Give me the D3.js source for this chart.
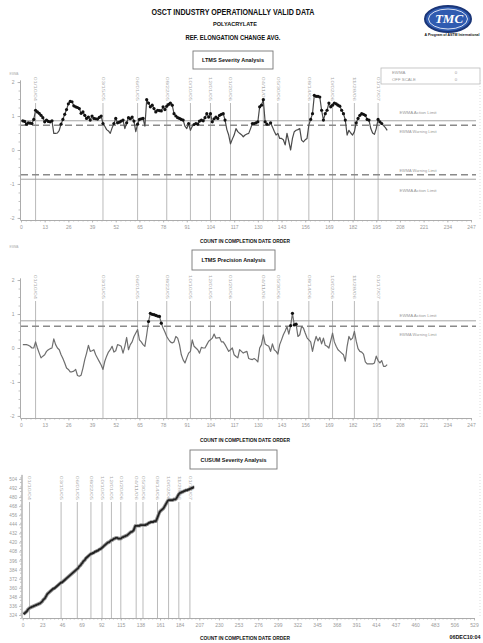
<!DOCTYPE html>
<html><head><meta charset="utf-8">
<script src="https://cdn.jsdelivr.net/npm/d3@7"></script>
<style>body{margin:0;background:#fff}svg{display:block}</style>
</head><body><svg id="c" width="483" height="643"></svg>
<script>
// ---------------- DATA ----------------
const severityEWMA = [
0.86,0.84,0.76,0.80,0.79,0.78,0.90,1.17,1.12,1.08,
1.02,0.95,0.83,0.88,0.84,0.83,0.86,0.49,0.49,0.50,
0.58,0.76,0.90,1.05,1.19,1.36,1.43,1.42,1.30,1.27,
1.25,1.22,1.08,1.12,1.02,0.93,0.97,0.88,1.00,0.93,
0.92,0.91,0.96,1.00,0.78,0.70,0.60,0.56,0.49,0.65,
0.78,0.93,0.80,0.82,0.85,0.88,0.63,0.80,0.95,0.92,
0.97,0.85,0.54,0.76,0.90,0.92,0.93,0.70,1.48,1.38,
1.27,1.32,1.22,1.12,1.17,1.16,1.15,1.27,1.19,1.29,
1.34,1.38,1.32,1.07,1.00,0.95,0.93,0.90,0.88,0.70,
0.63,0.78,0.58,0.70,0.75,0.78,0.76,0.85,0.88,0.86,
0.95,1.07,0.97,1.07,0.83,0.92,0.97,0.93,1.02,1.05,
1.07,0.88,0.60,0.44,0.18,0.32,0.44,0.63,0.54,0.49,
0.45,0.39,0.44,0.47,0.49,0.63,0.78,0.78,0.80,0.83,
1.27,1.32,1.48,0.83,0.76,0.73,0.80,0.68,0.55,0.44,
0.49,0.34,0.34,0.30,0.15,0.49,0.25,0.00,0.34,0.54,
0.58,0.60,0.63,0.29,0.24,0.30,0.34,0.73,0.90,1.07,
1.61,1.58,1.58,1.56,1.17,0.88,1.07,1.17,1.38,1.27,
1.32,1.38,1.36,1.32,1.29,1.17,1.07,0.88,0.44,0.58,
0.50,0.44,0.54,0.80,0.93,1.02,1.07,1.05,1.02,0.90,
0.88,0.63,0.50,0.46,0.63,0.90,0.83,0.78,0.72,0.66,
0.58];
const precisionEWMA = [
0.10,0.10,0.10,0.08,0.05,0.00,0.00,0.18,0.00,-0.15,
-0.29,-0.24,-0.20,-0.10,-0.05,-0.02,0.00,0.27,0.10,0.00,
-0.05,-0.20,-0.31,-0.44,-0.59,-0.63,-0.70,-0.70,-0.68,-0.63,
-0.81,-0.83,-0.80,-0.59,-0.34,-0.15,0.08,-0.10,-0.08,-0.05,
-0.20,-0.30,-0.40,-0.50,-0.63,-0.39,-0.24,-0.12,-0.05,0.05,
-0.12,-0.08,0.10,0.08,0.05,-0.15,0.05,0.31,-0.05,0.10,
0.18,0.34,0.44,0.54,0.24,0.18,0.10,0.05,0.39,0.78,
1.02,0.99,0.98,0.96,0.94,0.93,0.73,0.59,0.47,0.34,
0.25,0.18,0.15,0.18,0.34,0.29,0.10,-0.20,-0.35,-0.44,
-0.29,-0.15,-0.10,0.24,0.05,0.00,-0.05,-0.15,0.02,0.00,
0.00,0.10,0.20,0.24,0.29,0.41,0.29,0.30,0.31,0.18,
0.18,0.10,0.00,-0.10,-0.05,0.00,-0.20,-0.25,-0.29,-0.05,
-0.10,-0.15,-0.12,-0.10,-0.31,-0.33,-0.34,-0.31,-0.35,-0.41,
0.00,0.10,0.39,0.12,0.08,0.05,-0.10,0.12,-0.05,-0.10,
-0.18,0.10,0.24,0.39,0.50,0.63,0.41,0.66,1.02,0.68,
0.70,0.34,0.39,0.63,0.59,0.44,0.30,0.24,0.18,-0.10,
0.15,0.34,0.21,0.31,0.12,0.29,0.08,0.05,0.00,0.21,
0.44,0.18,0.05,-0.05,-0.10,-0.15,-0.20,-0.39,0.05,0.34,
0.24,0.29,0.49,0.20,-0.02,-0.10,-0.12,-0.18,-0.41,-0.47,
-0.47,-0.47,-0.47,-0.44,-0.24,-0.37,-0.44,-0.37,-0.54,-0.54,
-0.49];
const severityCUSUM = [
325,326,327,328,329,331,332,333,334,334,
335,335,336,336,337,337,338,338,339,339,
340,341,342,344,345,346,348,350,352,353,
354,355,356,357,358,359,359,360,361,362,
363,364,365,366,367,367,368,369,370,371,
372,373,374,375,376,377,378,379,380,381,
382,383,384,385,386,388,389,390,392,393,
395,396,397,399,400,401,402,403,404,405,
405,406,406,407,408,408,409,409,410,411,
411,412,413,414,415,416,417,418,419,420,
420,421,422,423,423,424,425,425,426,426,
426,425,425,425,425,426,427,427,428,428,
429,429,430,431,432,433,434,434,435,436,
439,442,442,442,442,442,442,443,443,443,
443,443,443,443,444,444,445,446,446,447,
447,447,447,448,448,448,450,453,456,459,
461,462,463,464,465,467,469,471,473,475,
476,476,476,476,476,476,477,477,477,478,
480,482,484,485,486,486,487,487,488,488,
489,489,489,490,490,491,491,492,492,493,
493];
const eventCounts = [8,45,64,80,93,104,115,133,141,158,171,183,196];
const eventLabels = ["01/10/04","03/15/05","06/01/05","08/22/05","10/10/05","12/01/05","01/20/06",
                     "04/11/06","05/30/06","08/14/06","10/02/06","11/28/06","01/17/07"];
const countTicks = [0,13,26,39,52,65,78,91,104,117,130,143,156,169,182,195,208,221,234,247];
const cusumCountTicks = [0,23,46,69,92,115,138,161,184,207,230,253,276,299,322,345,368,391,414,437,460,483,506,529];
const ewmaTicks = [-2,-1,0,1,2];
const cusumTicks = [324,336,348,360,372,384,396,408,420,432,444,456,468,480,492,504];
const severityLimits = [0.86, 0.73, -0.73, -0.86];   // action, warning, warning, action
const precisionLimits = [0.80, 0.64];                 // action, warning
const legendRows = [["EWMA","0"],["OFF SCALE","0"]];

// ---------------- DRAWING ----------------
const svg = d3.select('#c');
const FONT = "'Liberation Sans Narrow','Liberation Sans',Arial,sans-serif";
const GRID = '#a8a8a8';

function label(x, y, s, o = {}) {
  const t = svg.append('text').attr('x', x).attr('y', y).text(s)
    .attr('font-family', FONT).attr('font-size', o.size || 6)
    .attr('font-weight', o.bold ? 'bold' : 'normal')
    .attr('fill', o.fill || '#111')
    .attr('text-anchor', o.anchor || 'middle')
    .attr('dominant-baseline', 'middle');
  if (o.len) t.attr('textLength', o.len).attr('lengthAdjust', 'spacingAndGlyphs');
  return t;
}
function styleAxis(g, fs) {
  g.select('.domain').attr('stroke', GRID).attr('stroke-width', 0.8);
  g.selectAll('.tick line').attr('stroke', GRID).attr('stroke-width', 0.7);
  g.selectAll('.tick text').attr('fill', '#9a9a9a').attr('font-size', fs || 5).attr('font-family', FONT);
}

// Header
label(233, 13, 'OSCT INDUSTRY OPERATIONALLY VALID DATA', {size: 9, bold: true, len: 163});
label(235, 25, 'POLYACRYLATE', {size: 5.5, bold: true, len: 44});
label(233, 38, 'REF. ELONGATION CHANGE AVG.', {size: 7, bold: true, len: 95});
// logo
svg.append('ellipse').attr('cx', 448).attr('cy', 19).attr('rx', 23).attr('ry', 13)
  .attr('fill', '#2f5bb0').attr('stroke', '#1b3678').attr('stroke-width', 2);
svg.append('ellipse').attr('cx', 448).attr('cy', 19).attr('rx', 19.5).attr('ry', 10)
  .attr('fill', 'none').attr('stroke', '#ffffff').attr('stroke-width', 0.8);
label(449, 20, 'TMC', {size: 13, bold: true, fill: '#fff'}).attr('font-style', 'italic')
  .attr('font-family', "'Liberation Serif',serif");
label(452, 35, 'A Program of ASTM International', {size: 3.5, bold: true, len: 55});

function titleBox(x0, x1, y0, y1, s, len) {
  svg.append('rect').attr('x', x0).attr('y', y0).attr('width', x1 - x0).attr('height', y1 - y0)
    .attr('fill', '#fff').attr('stroke', '#777').attr('stroke-width', 0.9);
  label((x0 + x1) / 2, (y0 + y1) / 2 + 0.5, s, {size: 6, bold: true, len: len});
}

function eventLines(x, top, bottom, labLen) {
  eventCounts.forEach((c, i) => {
    const px = x(c);
    svg.append('line').attr('x1', px).attr('x2', px).attr('y1', top + labLen + 2).attr('y2', bottom)
      .attr('stroke', GRID).attr('stroke-width', 0.8);
    svg.append('text').attr('transform', `translate(${px},${top}) rotate(90)`)
      .attr('font-family', FONT).attr('font-size', 4.2).attr('fill', '#aaa')
      .attr('dominant-baseline', 'middle').attr('textLength', labLen).attr('lengthAdjust', 'spacingAndGlyphs')
      .text(eventLabels[i]);
  });
}

function xAxis(x, bottom, ticks, minorStep, maxV) {
  const minor = d3.range(0, maxV + 0.001, minorStep);
  const gm = svg.append('g').attr('transform', `translate(0,${bottom})`)
    .call(d3.axisBottom(x).tickValues(minor).tickSize(1.5).tickSizeOuter(0).tickFormat(''));
  styleAxis(gm);
  const g = svg.append('g').attr('transform', `translate(0,${bottom})`)
    .call(d3.axisBottom(x).tickValues(ticks).tickSize(2.5).tickSizeOuter(0).tickPadding(3));
  styleAxis(g, 5);
}

function ewmaChart(values, limits, bottom, threshold, lineColor, labels) {
  const x = d3.scaleLinear().domain([0, 247]).range([21, 471]);
  const y = d3.scaleLinear().domain([-2.06, 2.06]).range([bottom, bottom - 140]);
  // y axis
  const gm = svg.append('g').attr('transform', 'translate(20,0)')
    .call(d3.axisLeft(y).tickValues(d3.range(-2, 2.01, 0.25)).tickSize(1.5).tickSizeOuter(0).tickFormat(''));
  styleAxis(gm);
  const gy = svg.append('g').attr('transform', 'translate(20,0)')
    .call(d3.axisLeft(y).tickValues(ewmaTicks).tickSize(2.5).tickSizeOuter(0).tickPadding(3).tickFormat(d => d));
  styleAxis(gy, 5);
  xAxis(x, bottom, countTicks, 2.6, 247);
  // right faint border
  svg.append('line').attr('x1', 480).attr('x2', 480).attr('y1', bottom - 140).attr('y2', bottom)
    .attr('stroke', '#ddd').attr('stroke-dasharray', '1,2');
  eventLines(x, bottom - 143, bottom, 24);
  // limits
  limits.forEach((v, i) => {
    const isAction = (i === 0 || i === 3);
    svg.append('line').attr('x1', 21).attr('x2', 476).attr('y1', y(v)).attr('y2', y(v))
      .attr('stroke', isAction ? '#9a9a9a' : '#8a8a8a')
      .attr('stroke-width', isAction ? 0.9 : 1.4)
      .attr('stroke-dasharray', isAction ? null : '7,4');
  });
  labels.forEach(l => label(418, y(l.v) + l.dy, l.t, {size: 4.3, fill: '#999', len: 37}));
  // series
  const pts = values.map((v, i) => [i + 1, v]);
  const line = d3.line().x(d => x(d[0])).y(d => y(d[1]));
  svg.append('path').attr('d', line(pts)).attr('fill', 'none')
    .attr('stroke', lineColor).attr('stroke-width', 1.2).attr('stroke-linejoin', 'round');
  svg.append('g').selectAll('circle').data(pts.filter(d => d[1] > threshold)).join('circle')
    .attr('cx', d => x(d[0])).attr('cy', d => y(d[1])).attr('r', 1.6).attr('fill', '#111');
  return {x, y};
}

// Chart 1 : LTMS Severity Analysis
const c1 = ewmaChart(severityEWMA, severityLimits, 220, severityLimits[1], '#4a4a4a', [
  {v: severityLimits[0], dy: -7.5, t: 'EWMA Action Limit'},
  {v: severityLimits[1], dy: 7, t: 'EWMA Warning Limit'},
  {v: severityLimits[2], dy: -3.5, t: 'EWMA Warning Limit'},
  {v: severityLimits[3], dy: 11.5, t: 'EWMA Action Limit'}
]);
titleBox(193, 273, 51, 69, 'LTMS Severity Analysis', 62);
label(14, 74, 'EWMA', {size: 3.5, fill: '#aaa', len: 9});
label(245, 241.5, 'COUNT IN COMPLETION DATE ORDER', {size: 6, bold: true, len: 90});
// legend box
svg.append('rect').attr('x', 381).attr('y', 68).attr('width', 99).attr('height', 16)
  .attr('fill', '#fff').attr('stroke', '#bbb').attr('stroke-width', 0.8);
legendRows.forEach((r, i) => {
  label(392, 72.5 + i * 7, r[0], {size: 4.3, fill: '#999', anchor: 'start'});
  label(456, 72.5 + i * 7, r[1], {size: 4.3, fill: '#999'});
});

// Chart 2 : LTMS Precision Analysis
const c2 = ewmaChart(precisionEWMA, precisionLimits, 418, precisionLimits[1], '#6e6e6e', [
  {v: precisionLimits[0], dy: -5, t: 'EWMA Action Limit'},
  {v: precisionLimits[1], dy: 8.5, t: 'EWMA Warning Limit'}
]);
titleBox(192, 275, 250, 270, 'LTMS Precision Analysis', 64);
label(14, 247, 'EWMA', {size: 3.5, fill: '#aaa', len: 9});
label(245, 440.5, 'COUNT IN COMPLETION DATE ORDER', {size: 6, bold: true, len: 90});

// Chart 3 : CUSUM Severity Analysis
{
  const x = d3.scaleLinear().domain([0, 529]).range([22.7, 474]);
  const y = d3.scaleLinear().domain([320, 510]).range([618, 474.4]);
  const gm = svg.append('g').attr('transform', 'translate(21.5,0)')
    .call(d3.axisLeft(y).tickValues(d3.range(320, 509, 6)).tickSize(1.5).tickSizeOuter(0).tickFormat(''));
  styleAxis(gm);
  const gy = svg.append('g').attr('transform', 'translate(21.5,0)')
    .call(d3.axisLeft(y).tickValues(cusumTicks).tickSize(2.5).tickSizeOuter(0).tickPadding(2).tickFormat(d => d));
  styleAxis(gy, 4.6);
  xAxis(x, 618, cusumCountTicks, 4.6, 529);
  svg.append('line').attr('x1', 480).attr('x2', 480).attr('y1', 474).attr('y2', 618)
    .attr('stroke', '#ddd').attr('stroke-dasharray', '1,2');
  eventLines(x, 476, 618, 24);
  const pts = severityCUSUM.map((v, i) => [i + 1, v]);
  const line = d3.line().x(d => x(d[0])).y(d => y(d[1]));
  svg.append('path').attr('d', line(pts)).attr('fill', 'none')
    .attr('stroke', '#999').attr('stroke-width', 3.6).attr('stroke-linejoin', 'round');
  svg.append('path').attr('d', line(pts)).attr('fill', 'none')
    .attr('stroke', '#222').attr('stroke-width', 1.8).attr('stroke-linejoin', 'round');
  titleBox(190, 277, 450, 469, 'CUSUM Severity Analysis', 66);
  label(245, 638, 'COUNT IN COMPLETION DATE ORDER', {size: 6, bold: true, len: 90});
  label(465, 638, '06DEC10:04', {size: 5, bold: true, len: 31});
}
</script></body></html>
